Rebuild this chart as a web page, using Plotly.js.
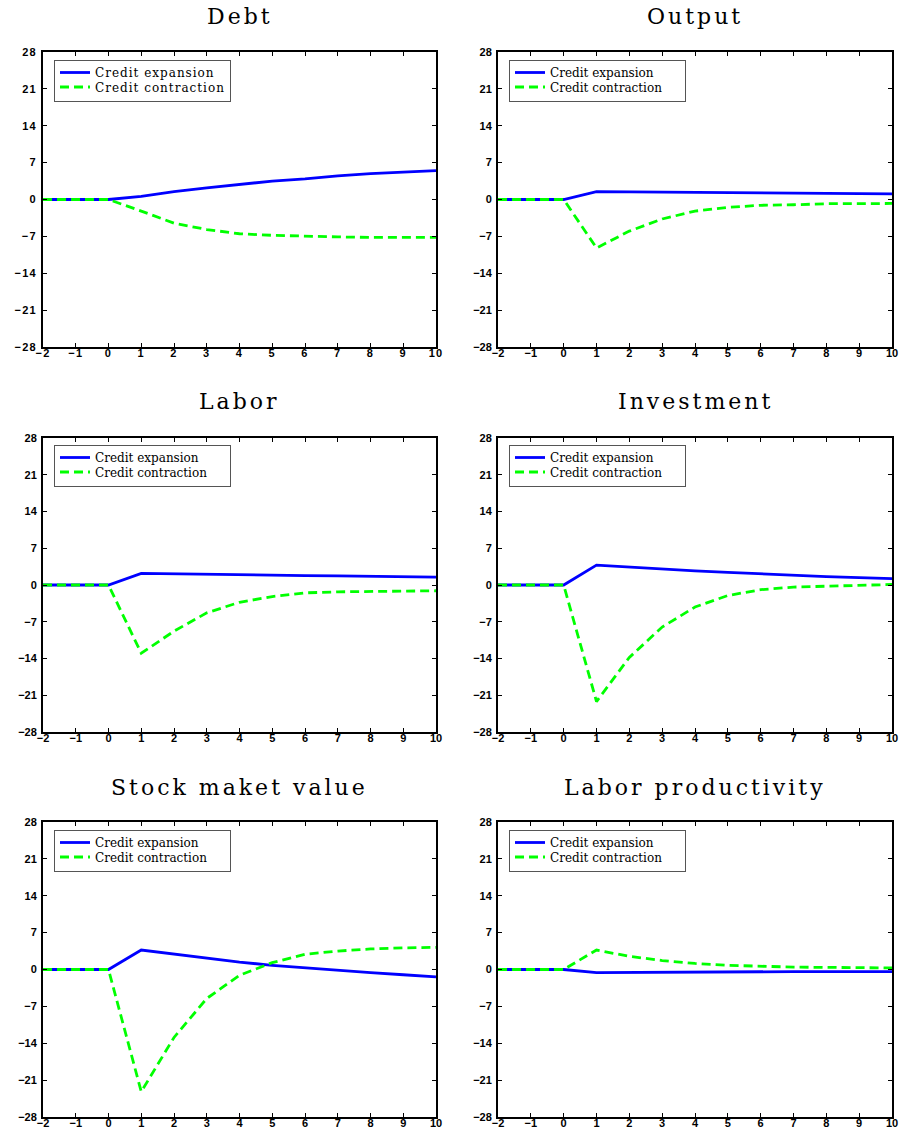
<!DOCTYPE html>
<html>
<head>
<meta charset="utf-8">
<script src="https://cdn.plot.ly/plotly-3.0.1.min.js"></script>
<style>
  html, body { margin: 0; padding: 0; background: #fff; }
  #chart { width: 899px; height: 1134px; }
  .annotation-text { letter-spacing: 3px; }
  .legendtext { letter-spacing: 1px; }
  .xtick text, .ytick text { letter-spacing: 1.2px; }
</style>
</head>
<body>
<div id="chart"></div>
<script>
const periods = [-2, -1, 0, 1, 2, 3, 4, 5, 6, 7, 8, 9, 10];
const yTicks = [-28, -21, -14, -7, 0, 7, 14, 21, 28];
const xTicks = [-2, -1, 0, 1, 2, 3, 4, 5, 6, 7, 8, 9, 10];
const seriesNames = ["Credit expansion", "Credit contraction"];
const panelTitles = ["Debt", "Output", "Labor", "Investment", "Stock maket value", "Labor productivity"];

const debtExpansion = [0, 0, 0, 0.6, 1.5, 2.2, 2.9, 3.5, 3.9, 4.5, 4.9, 5.2, 5.5];
const debtContraction = [0, 0, 0, -2.2, -4.5, -5.7, -6.5, -6.8, -7.0, -7.1, -7.2, -7.2, -7.2];
const outputExpansion = [0, 0, 0, 1.5, 1.45, 1.4, 1.35, 1.3, 1.25, 1.2, 1.15, 1.1, 1.05];
const outputContraction = [0, 0, 0, -9.2, -6.0, -3.7, -2.2, -1.5, -1.1, -1.0, -0.8, -0.8, -0.75];
const laborExpansion = [0, 0, 0, 2.2, 2.1, 2.0, 1.95, 1.9, 1.8, 1.75, 1.7, 1.6, 1.5];
const laborContraction = [0, 0, 0, -13.0, -8.8, -5.3, -3.3, -2.2, -1.5, -1.3, -1.2, -1.15, -1.1];
const investmentExpansion = [0, 0, 0, 3.8, 3.4, 3.0, 2.7, 2.4, 2.1, 1.85, 1.6, 1.4, 1.2];
const investmentContraction = [0, 0, 0, -22.2, -13.8, -8.0, -4.2, -2.0, -0.9, -0.4, -0.2, -0.05, 0.1];
const stockExpansion = [0, 0, 0, 3.7, 2.9, 2.1, 1.4, 0.8, 0.3, -0.1, -0.6, -1.0, -1.4];
const stockContraction = [0, 0, 0, -23.2, -12.9, -5.5, -1.1, 1.3, 2.9, 3.5, 3.9, 4.1, 4.2];
const productivityExpansion = [0, 0, 0, -0.6, -0.55, -0.5, -0.5, -0.45, -0.45, -0.4, -0.4, -0.4, -0.4];
const productivityContraction = [0, 0, 0, 3.7, 2.5, 1.7, 1.15, 0.8, 0.6, 0.45, 0.4, 0.35, 0.3];

const panelData = [
  [debtExpansion, debtContraction],
  [outputExpansion, outputContraction],
  [laborExpansion, laborContraction],
  [investmentExpansion, investmentContraction],
  [stockExpansion, stockContraction],
  [productivityExpansion, productivityContraction]
];

const W = 899, H = 1134;
const colX = [[43, 436], [498, 892]];
const rowY = [[52, 347], [438, 732], [822, 1117]];
const titleY = [17, 402, 787];
const legendPos = [[54, 60], [509, 60], [54, 445], [509, 445], [54, 830], [509, 830]];

const traces = [];
const layout = {
  width: W, height: H,
  margin: {l: 0, r: 0, t: 0, b: 0},
  paper_bgcolor: "#ffffff",
  plot_bgcolor: "#ffffff",
  showlegend: true,
  annotations: [],
  font: {family: "Liberation Sans, Arial, sans-serif", color: "#000"}
};

panelData.forEach((pair, i) => {
  const r = Math.floor(i / 2), c = i % 2;
  const xa = i === 0 ? "x" : "x" + (i + 1);
  const ya = i === 0 ? "y" : "y" + (i + 1);
  const leg = i === 0 ? "legend" : "legend" + (i + 1);
  traces.push({
    x: periods, y: pair[0], xaxis: xa, yaxis: ya, legend: leg,
    type: "scatter", mode: "lines", name: seriesNames[0],
    line: {color: "#0000ff", width: 2.8}
  });
  traces.push({
    x: periods, y: pair[1], xaxis: xa, yaxis: ya, legend: leg,
    type: "scatter", mode: "lines", name: seriesNames[1],
    line: {color: "#00ff00", width: 2.8, dash: "9px,5px"}
  });
  const axCommon = {
    showline: true, linecolor: "#000", linewidth: 2, mirror: "ticks",
    ticks: "inside", ticklen: 4, tickwidth: 1, tickcolor: "#000",
    showgrid: false, zeroline: false, fixedrange: true,
    tickfont: {family: "Liberation Sans, Arial, sans-serif", size: 11, color: "#000", weight: "bold"}
  };
  const xKey = i === 0 ? "xaxis" : "xaxis" + (i + 1);
  const yKey = i === 0 ? "yaxis" : "yaxis" + (i + 1);
  layout[xKey] = Object.assign({}, axCommon, {
    domain: [colX[c][0] / W, colX[c][1] / W],
    anchor: ya, range: [-2, 10], tickvals: xTicks,
    ticklabelstandoff: -5
  });
  layout[yKey] = Object.assign({}, axCommon, {
    domain: [1 - rowY[r][1] / H, 1 - rowY[r][0] / H],
    anchor: xa, range: [-28, 28], tickvals: yTicks,
    ticklabelstandoff: 2
  });
  layout[leg] = {
    x: legendPos[i][0] / W, y: 1 - legendPos[i][1] / H,
    xanchor: "left", yanchor: "top", xref: "paper", yref: "paper",
    bgcolor: "#ffffff", bordercolor: "#555", borderwidth: 1,
    font: {family: "DejaVu Serif", size: 12, color: "#000"},
    itemwidth: 30, tracegroupgap: 0
  };
  layout.annotations.push({
    text: panelTitles[i], xref: "paper", yref: "paper",
    x: (colX[c][0] + colX[c][1]) / 2 / W, y: 1 - titleY[r] / H,
    xanchor: "center", yanchor: "middle", showarrow: false,
    font: {family: "DejaVu Serif, serif", size: 22, color: "#000"}
  });
});

Plotly.newPlot("chart", traces, layout, {displayModeBar: false, staticPlot: true}).then(gd => {
  // tighten legend row spacing to match the compact boxed legends
  const rowGap = 14.5, topShift = 3;
  gd.querySelectorAll(".infolayer > g").forEach(lg => {
    const cls = lg.getAttribute("class") || "";
    if (!/^legend\d*$/.test(cls)) return;
    const items = Array.from(lg.querySelectorAll("g.traces"));
    if (items.length < 2) return;
    const parse = el => {
      const m = /translate\(\s*([-\d.e]+)[ ,]+([-\d.e]+)\s*\)/.exec(el.getAttribute("transform") || "");
      return m ? [parseFloat(m[1]), parseFloat(m[2])] : [0, 0];
    };
    const p0 = parse(items[0]);
    const pLast = parse(items[items.length - 1]);
    const y0 = p0[1] - topShift;
    items.forEach((el, k) => {
      const p = parse(el);
      el.setAttribute("transform", "translate(" + p[0] + "," + (y0 + k * rowGap) + ")");
    });
    const newLast = y0 + (items.length - 1) * rowGap;
    const bg = lg.querySelector("rect.bg");
    if (bg) {
      const h = parseFloat(bg.getAttribute("height"));
      bg.setAttribute("height", h - (pLast[1] - newLast) - 1);
    }
  });
});
</script>
</body>
</html>
